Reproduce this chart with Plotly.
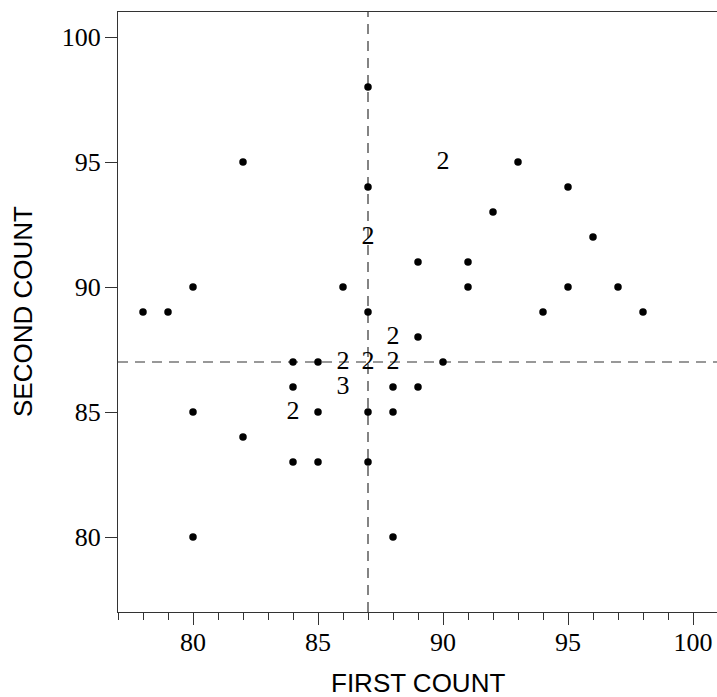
import plotly.graph_objects as go

# Data: (first count, second count, number of coincident observations)
first_count = [78, 79, 80, 80, 80, 82, 82, 84, 84, 84, 84, 85, 85, 85, 86, 86, 86,
               87, 87, 87, 87, 87, 87, 87, 88, 88, 88, 88, 88, 89, 89, 89, 90, 90,
               91, 91, 92, 93, 94, 95, 95, 96, 97, 98]
second_count = [89, 89, 90, 85, 80, 95, 84, 87, 86, 85, 83, 87, 85, 83, 87, 86, 90,
                98, 94, 92, 89, 87, 85, 83, 88, 87, 86, 85, 80, 91, 88, 86, 87, 95,
                91, 90, 93, 95, 89, 94, 90, 92, 90, 89]
multiplicity = [1, 1, 1, 1, 1, 1, 1, 1, 1, 2, 1, 1, 1, 1, 2, 3, 1,
                1, 1, 2, 1, 2, 1, 1, 2, 2, 1, 1, 1, 1, 1, 1, 1, 2,
                1, 1, 1, 1, 1, 1, 1, 1, 1, 1]
ref_first = 87
ref_second = 87
tick_vals = [80, 85, 90, 95, 100]

single_x = [x for x, m in zip(first_count, multiplicity) if m == 1]
single_y = [y for y, m in zip(second_count, multiplicity) if m == 1]
multi_x = [x for x, m in zip(first_count, multiplicity) if m > 1]
multi_y = [y for y, m in zip(second_count, multiplicity) if m > 1]
multi_t = [str(m) for m in multiplicity if m > 1]

serif = "Liberation Serif"
sans = "Liberation Sans"
axis_col = "#333333"

fig = go.Figure()
fig.add_trace(go.Scatter(x=single_x, y=single_y, mode="markers",
                         marker=dict(size=7.5, color="black"), hoverinfo="x+y"))
fig.add_trace(go.Scatter(x=multi_x, y=multi_y, mode="text", text=multi_t,
                         textposition="middle center",
                         textfont=dict(family=serif, size=26, color="black")))

fig.add_shape(type="line", xref="x", yref="paper", x0=ref_first, x1=ref_first, y0=0, y1=1,
              line=dict(color="#333333", width=1.2, dash="10px,7px"), layer="below")
fig.add_shape(type="line", xref="paper", yref="y", x0=0, x1=1, y0=ref_second, y1=ref_second,
              line=dict(color="#333333", width=1.2, dash="10px,7px"), layer="below")

fig.update_layout(
    width=760, height=697,
    margin=dict(l=118, r=0, t=12, b=85),
    plot_bgcolor="white", paper_bgcolor="white",
    showlegend=False,
    xaxis=dict(range=[77, 102.68], tickvals=tick_vals, showgrid=False, zeroline=False,
               showline=True, linecolor=axis_col, linewidth=1.3, mirror=True,
               ticks="outside", ticklen=12, tickwidth=1.2, tickcolor=axis_col,
               ticklabelstandoff=-5,
               minor=dict(dtick=1, tick0=0, ticks="outside", ticklen=7, tickwidth=1.2,
                          tickcolor=axis_col, showgrid=False),
               tickfont=dict(family=serif, size=26, color="black")),
    yaxis=dict(range=[77, 101], tickvals=tick_vals, showgrid=False, zeroline=False,
               showline=True, linecolor=axis_col, linewidth=1.3, mirror=False,
               ticks="outside", ticklen=12, tickwidth=1.2, tickcolor=axis_col,
               ticklabelstandoff=-1,
               tickfont=dict(family=serif, size=26, color="black")),
    annotations=[
        dict(text="FIRST COUNT", xref="paper", yref="paper", x=(418 - 118) / 642, y=0, yshift=-71,
             xanchor="center", yanchor="middle", showarrow=False,
             font=dict(family=sans, size=26, color="black")),
        dict(text="SECOND COUNT", xref="paper", yref="paper", x=0, y=0.5, xshift=-95,
             xanchor="center", yanchor="middle", textangle=-90, showarrow=False,
             font=dict(family=sans, size=26, color="black")),
    ],
)

fig.write_html(
    "out.html",
    config={"displayModeBar": False},
    post_script=(
        "document.body.style.margin='0';"
        "document.body.style.overflow='hidden';"
        "document.documentElement.style.overflow='hidden';"
    ),
)
